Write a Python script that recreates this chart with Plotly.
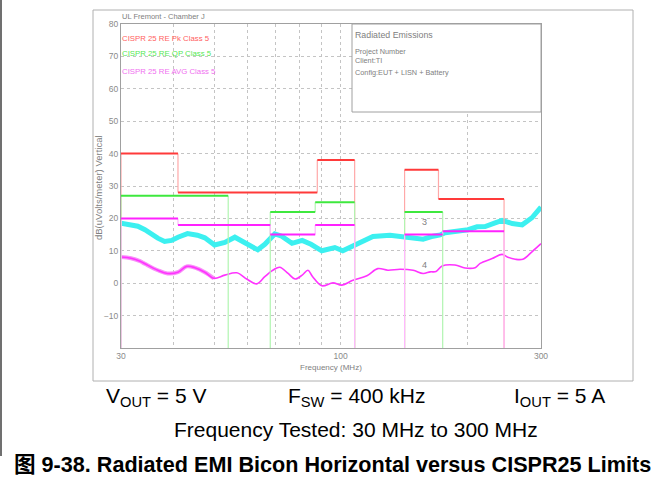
import plotly.graph_objects as go

# ---------------- data ----------------
# measured peak trace (cyan), MHz / dBuV/m
peak_freq = [30.0, 31.7, 32.9, 34.2, 35.3, 36.7, 38.1, 39.6, 41.0, 43.2, 45.6, 47.5, 50.1, 53.0,
             56.0, 59.2, 63.5, 66.0, 69.7, 72.4, 76.6, 81.0, 85.0, 90.2, 96.9, 101.2, 105.2, 109.3,
             119.4, 131.1, 140.8, 148.8, 157.2, 166.1, 172.6, 177.4, 189.3, 201.1, 211.3, 220.8,
             233.3, 242.4, 256.2, 270.6, 285.5, 300.0]
peak_level = [18.5, 18.0, 17.6, 16.5, 15.2, 13.9, 12.9, 13.2, 14.2, 15.3, 14.8, 14.0, 11.8, 12.6,
              14.2, 12.5, 10.3, 12.0, 15.2, 14.5, 12.3, 13.2, 12.0, 10.0, 11.0, 10.0, 11.0, 12.2,
              14.4, 14.8, 14.3, 14.0, 13.6, 14.5, 14.9, 15.6, 16.0, 16.5, 17.4, 17.5,
              18.6, 19.4, 18.4, 18.0, 20.2, 23.5]

# measured average trace (magenta)
avg_freq = [30.0, 31.7, 33.3, 34.2, 36.7, 38.7, 41.0, 43.0, 45.0, 47.5, 49.9, 53.0, 56.6, 59.9,
            63.1, 66.0, 68.6, 71.6, 75.0, 77.9, 81.0, 83.6, 85.8, 90.2, 95.9, 100.7, 107.0, 115.5,
            122.6, 129.6, 138.4, 148.8, 157.2, 163.4, 168.7, 174.4, 187.2, 197.8, 209.1, 214.9,
            229.5, 242.4, 249.3, 260.5, 271.5, 285.5, 300.0]
avg_level = [8.1, 7.7, 6.8, 6.0, 4.0, 3.0, 3.4, 5.2, 4.8, 3.4, 1.5, 2.5, 3.2, 1.2,
             -0.2, 2.0, 3.8, 4.9, 3.0, 1.3, 2.5, 4.0, 2.0, -0.8, 0.1, -0.6, 0.9, 2.3,
             4.5, 4.0, 4.3, 4.0, 3.0, 3.5, 3.6, 5.3, 5.6, 4.7, 4.8, 6.1,
             7.6, 8.9, 8.1, 7.4, 7.4, 9.7, 12.2]

# CISPR 25 class 5 limits: band start, band end (MHz), level (dBuV/m)
pk_start = [30, 41, 88, 142, 171]
pk_end = [41, 88, 108, 171, 245]
pk_level = [40, 28, 38, 35, 26]

qp_start = [30, 68, 87, 142]
qp_end = [54, 87, 108, 175]
qp_level = [27, 22, 25, 22]

av_start = [30, 41, 68, 87, 142, 175]
av_end = [41, 68, 87, 108, 175, 245]
av_level = [20, 18, 15, 18, 15, 16]

y_ticks = [-10, 0, 10, 20, 30, 40, 50, 60, 70, 80]
x_grid = [30, 40, 50, 60, 70, 80, 90, 100, 200, 300]
x_labels = ['30', ' ', ' ', ' ', ' ', ' ', ' ', '100', ' ', '300']

Y_MIN, Y_MAX = -20, 80

# ---------------- geometry helpers ----------------
W, H = 664, 481
L, R, T, B = 121, 541, 24, 348


def px(x):
    return (x - L) / (R - L)


def py(y):
    return (B - y) / (B - T)


def horiz(starts, ends, levels):
    xs, ys = [], []
    for s, e, l in zip(starts, ends, levels):
        xs += [s, e, None]
        ys += [l, l, None]
    return xs, ys


def verts(starts, ends, levels):
    xs, ys = [], []
    n = len(starts)
    for i in range(n):
        prev = levels[i - 1] if i > 0 and ends[i - 1] == starts[i] else Y_MIN
        xs += [starts[i], starts[i], None]
        ys += [prev, levels[i], None]
        if i == n - 1 or starts[i + 1] != ends[i]:
            xs += [ends[i], ends[i], None]
            ys += [levels[i], Y_MIN, None]
    return xs, ys


fig = go.Figure()

# measured traces
fig.add_trace(go.Scatter(x=peak_freq, y=peak_level, mode='lines',
                         line=dict(color='#3cf0f0', width=5), showlegend=False))
thick_f = [f for f in avg_freq if f <= 50]
thick_l = avg_level[:len(thick_f)]
fig.add_trace(go.Scatter(x=thick_f, y=thick_l, mode='lines',
                         line=dict(color='#f890f8', width=4, shape='spline'), showlegend=False))
fig.add_trace(go.Scatter(x=avg_freq, y=avg_level, mode='lines',
                         line=dict(color='#ff33ff', width=1.6, shape='spline'), showlegend=False))

# limit lines
for starts, ends, levels, col, pale in [
        (pk_start, pk_end, pk_level, '#ff3a3a', '#ffa8a8'),
        (qp_start, qp_end, qp_level, '#3ee83e', '#b0f5b0'),
        (av_start, av_end, av_level, '#ff22ff', '#ffb8ff')]:
    vx, vy = verts(starts, ends, levels)
    fig.add_trace(go.Scatter(x=vx, y=vy, mode='lines', line=dict(color=pale, width=1.2),
                             showlegend=False))
    hx, hy = horiz(starts, ends, levels)
    fig.add_trace(go.Scatter(x=hx, y=hy, mode='lines', line=dict(color=col, width=2),
                             showlegend=False))

small = 'Liberation Sans, Arial, sans-serif'
tick_font = dict(family=small, size=8.5, color='#8a8a8a')

fig.update_xaxes(type='log', range=[1.47712, 2.47712], tickvals=x_grid, ticktext=x_labels,
                 showgrid=True, gridcolor='#c4c4c4', griddash='dot', gridwidth=1,
                 showline=True, linecolor='#a0a0a0', mirror=True, ticks='',
                 tickfont=tick_font, zeroline=False)
fig.update_yaxes(range=[Y_MIN, Y_MAX], tickvals=y_ticks,
                 showgrid=True, gridcolor='#c4c4c4', griddash='dot', gridwidth=1,
                 showline=True, linecolor='#a0a0a0', mirror=True, ticks='',
                 tickfont=tick_font, zeroline=False)

ann = []


def add_text(x, y, text, size, color='#808080', family=small, anchor='left', angle=0):
    ann.append(dict(x=px(x), y=py(y), xref='paper', yref='paper', text=text, showarrow=False,
                    xanchor=anchor, yanchor='middle', textangle=angle,
                    font=dict(family=family, size=size, color=color)))


add_text(120, 17, 'UL Fremont - Chamber J', 7.5)
add_text(120, 39, 'CISPR 25 RE Pk Class 5', 7.8, color='#ff6060')
add_text(120, 54, 'CISPR 25 RE QP Class 5', 7.8, color='#55e855')
add_text(120, 71, 'CISPR 25 RE AVG Class 5', 7.8, color='#f070f0')
add_text(353, 35, 'Radiated Emissions', 8.8)
add_text(353, 51, 'Project Number', 7.3)
add_text(353, 61, 'Client:TI', 7.3)
add_text(353, 72, 'Config:EUT + LISN + Battery', 7.3)
add_text(98, 188, 'dB(uVolts/meter) Vertical', 9.5, anchor='center', angle=-90)
add_text(331, 367, 'Frequency (MHz)', 8, anchor='center')
add_text(424, 222, '3', 9, anchor='center')
add_text(424, 265, '4', 9, anchor='center')

cap = 'Liberation Sans, Arial, sans-serif'
add_text(104, 397, 'V<sub>OUT</sub> = 5 V', 21, color='#000000', family=cap)
add_text(286, 397, 'F<sub>SW</sub> = 400 kHz', 21, color='#000000', family=cap)
add_text(512, 397, 'I<sub>OUT</sub> = 5 A', 21, color='#000000', family=cap)
add_text(356, 429, 'Frequency Tested: 30 MHz to 300 MHz', 21, color='#000000', family=cap,
         anchor='center')
add_text(332, 464, '<b>图 9-38. Radiated EMI Bicon Horizontal versus CISPR25 Limits</b>', 21.6,
         color='#000000', family='Liberation Sans, Noto Sans CJK SC, sans-serif', anchor='center')

shapes = [
    # outer chart frame
    dict(type='rect', xref='paper', yref='paper', x0=px(93), x1=px(633), y0=py(10), y1=py(381),
         line=dict(color='#b0b0b0', width=1), layer='below'),
    # info box
    dict(type='rect', xref='paper', yref='paper', x0=px(352), x1=px(541), y0=py(24), y1=py(112),
         line=dict(color='#a0a0a0', width=1), fillcolor='white', layer='above'),
    # page edge
    dict(type='line', xref='paper', yref='paper', x0=px(1), x1=px(1), y0=py(0), y1=py(456),
         line=dict(color='#707070', width=2)),
]

fig.update_layout(width=W, height=H, margin=dict(l=L, r=W - R, t=T, b=H - B),
                  paper_bgcolor='white', plot_bgcolor='white', showlegend=False,
                  annotations=ann, shapes=shapes)

fig.write_html('out.html', config={'displayModeBar': False},
               post_script="document.body.style.margin='0';")
